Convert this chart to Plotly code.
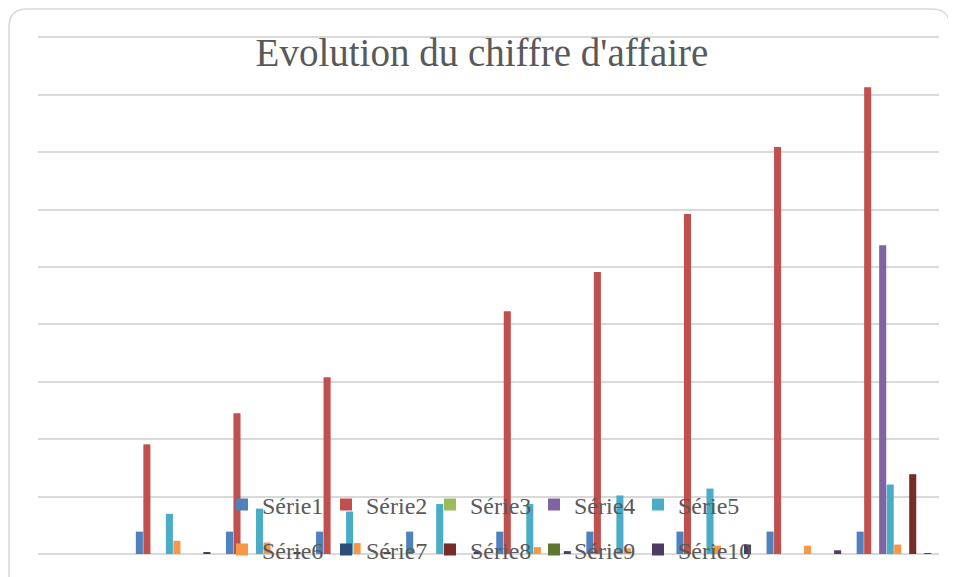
import plotly.graph_objects as go

categories = [1, 2, 3, 4, 5, 6, 7, 8, 9, 10]
series_names = ["Série1", "Série2", "Série3", "Série4", "Série5",
                "Série6", "Série7", "Série8", "Série9", "Série10"]

serie1 = [None, 390, 390, 390, 390, 390, 390, 390, 390, 390]
serie2 = [None, 1910, 2450, 3080, None, 4230, 4910, 5920, 7090, 8130]
serie3 = [None, None, None, None, None, None, None, None, None, None]
serie4 = [None, None, None, None, None, None, None, None, None, 5380]
serie5 = [None, 700, 790, 740, 870, 870, 1020, 1140, None, 1210]
serie6 = [None, 230, 200, 190, 180, 120, 100, 145, 145, 165]
serie7 = [None, None, None, None, None, None, None, None, None, None]
serie8 = [None, None, None, None, None, None, None, None, None, 1390]
serie9 = [None, None, None, None, None, None, None, None, None, None]
serie10 = [None, 35, 35, 35, 35, 50, 35, 165, 65, 10]

all_series = [serie1, serie2, serie3, serie4, serie5,
              serie6, serie7, serie8, serie9, serie10]
colors = ["#4F81BD", "#C0504D", "#9BBB59", "#8064A2", "#4BACC6",
          "#F79646", "#2C4D75", "#772C2A", "#5F7530", "#4D3B62"]

# page body has an 8px margin: figure drawn at (8, 8)
W, H = 948, 569
L, R, T, B = 30, 17, 27, 23
pw, ph = W - L - R, H - T - B


def px_to_paper(x, y):
    # x, y in figure pixel coordinates
    return (x - L) / pw, (H - B - y) / ph


fig = go.Figure()
for i, (name, vals) in enumerate(zip(series_names, all_series)):
    fig.add_trace(go.Bar(
        x=categories, y=vals, name=name,
        marker=dict(color=colors[i], line=dict(width=0)),
        legend="legend" if i < 5 else "legend2",
        showlegend=True,
    ))
# invisible spacer entries so the last legend labels are not clipped
for lg in ["legend", "legend2"]:
    fig.add_trace(go.Scatter(
        x=[None], y=[None], mode="markers", name=" ",
        marker=dict(color="rgba(0,0,0,0)"), legend=lg,
        showlegend=True, hoverinfo="skip",
    ))

# rounded outer border
x0, y0, x1, y1, r = 1, 1, 942, 600, 18


def P(x, y):
    a, b = px_to_paper(x, y)
    return f"{a:.5f},{b:.5f}"


path = (f"M {P(x0, y0 + r)} Q {P(x0, y0)} {P(x0 + r, y0)} L {P(x1 - r, y0)} "
        f"Q {P(x1, y0)} {P(x1, y0 + r)} L {P(x1, y1)} L {P(x0, y1)} Z")

legend_font = dict(family="Liberation Serif", size=24, color="#595959")
lx, _ = px_to_paper(214, 0)
_, ly1 = px_to_paper(0, 497)
_, ly2 = px_to_paper(0, 542)

fig.update_layout(
    width=W, height=H,
    margin=dict(l=L, r=R, t=T, b=B, autoexpand=False),
    paper_bgcolor="white", plot_bgcolor="white",
    barmode="group", bargap=0.167, bargroupgap=0.06,
    title=dict(text="Evolution du chiffre d'affaire", x=0.5, xanchor="center",
               y=1 - 44 / H, yanchor="middle",
               font=dict(family="Liberation Serif", size=39, color="#595959")),
    xaxis=dict(range=[0.5, 10.5], showticklabels=False, showgrid=False,
               zeroline=False, showline=False, ticks=""),
    yaxis=dict(range=[0, 9040], dtick=1000, showticklabels=False,
               showgrid=True, gridcolor="#D9D9D9", gridwidth=1.5,
               zeroline=True, zerolinecolor="#D9D9D9", zerolinewidth=1.5,
               showline=False, ticks=""),
    legend=dict(orientation="h", x=lx, xanchor="left", y=ly1, yanchor="middle",
                bgcolor="rgba(0,0,0,0)", font=legend_font, entrywidth=59,
                traceorder="normal"),
    legend2=dict(orientation="h", x=lx, xanchor="left", y=ly2, yanchor="middle",
                 bgcolor="rgba(0,0,0,0)", font=legend_font, entrywidth=59,
                 traceorder="normal"),
    shapes=[dict(type="path", xref="paper", yref="paper", path=path,
                 line=dict(color="#D9D9D9", width=1.5), fillcolor="rgba(0,0,0,0)",
                 layer="below")],
)

fig.write_html("out.html")
